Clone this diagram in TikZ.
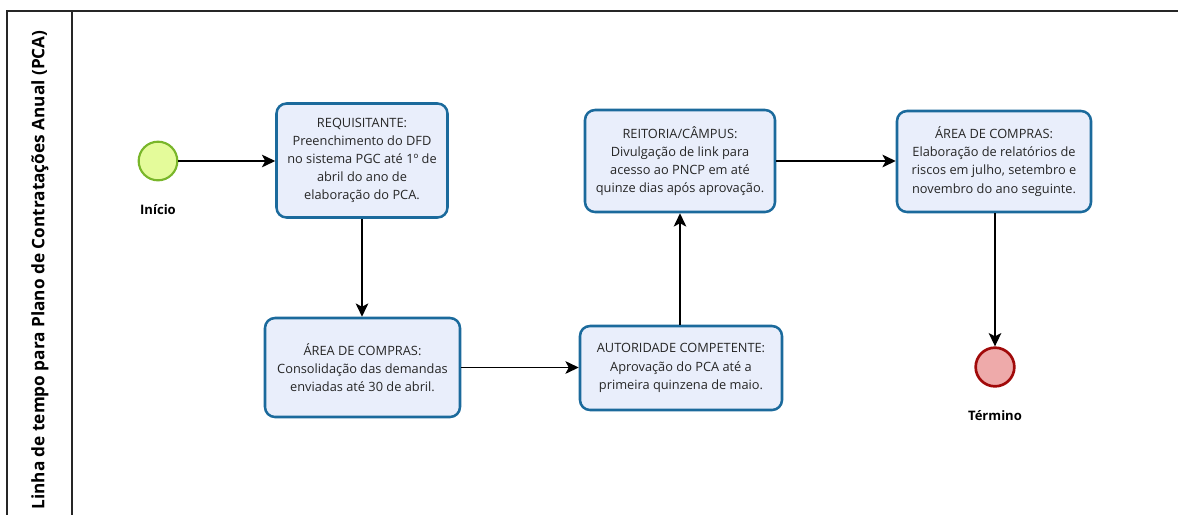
\documentclass[tikz,border=0pt]{standalone}
\usepackage{fontspec}
\setmainfont{Open Sans}
\usetikzlibrary{arrows.meta}
\definecolor{boxfill}{HTML}{E9EEFB}
\definecolor{boxline}{HTML}{1B6A9C}
\definecolor{startfill}{HTML}{E4FB9A}
\definecolor{startline}{HTML}{79B62A}
\definecolor{endfill}{HTML}{EEAAAA}
\definecolor{endline}{HTML}{A10A0A}
\tikzset{
  task/.style={draw=boxline, fill=boxfill, line width=1.9pt, rounded corners=7.5pt,
    align=center, inner sep=2pt, font=\fontsize{9.6}{13.6}\selectfont, text=black!85},
  startev/.style={circle, draw=startline, fill=startfill, line width=1.6pt, minimum size=29pt, inner sep=0pt},
  endev/.style={circle, draw=endline, fill=endfill, line width=2pt, minimum size=29pt, inner sep=0pt},
  evlabel/.style={font=\fontsize{9.8}{11}\selectfont\bfseries},
  flow/.style={line width=1pt, -{Stealth[length=10pt,width=9.5pt,inset=2.5pt]}},
  pool/.style={line width=1pt, draw=black!85}
}
\begin{document}
\begin{tikzpicture}[x=0.75pt,y=-0.75pt]
\useasboundingbox (0,0) rectangle (1178,515);
% pool
\draw[pool] (1178,11) -- (7,11) -- (7,515);
\draw[pool] (72,11) -- (72,515);
\node[rotate=90, font=\fontsize{12.9}{14}\selectfont\bfseries] (title) at (40,270) {Linha de tempo para Plano de Contratações Anual (PCA)};
% events
\node[startev] (start) at (158,161) {};
\node[evlabel] (startlbl) at (158,210) {Início};
\node[endev] (end) at (995,367) {};
\node[evlabel] (endlbl) at (995,416) {Término};
% tasks
\node[task, minimum width=128.25pt, minimum height=85.5pt] (t1) at (362,160.5)
  {REQUISITANTE:\\Preenchimento do DFD\\no sistema PGC até 1º de\\abril do ano de\\elaboração do PCA.};
\node[task, minimum width=146.25pt, minimum height=74.25pt] (t2) at (362.5,367.5)
  {ÁREA DE COMPRAS:\\Consolidação das demandas\\enviadas até 30 de abril.};
\node[task, minimum width=151.5pt, minimum height=63pt] (t3) at (681,368)
  {AUTORIDADE COMPETENTE:\\Aprovação do PCA até a\\primeira quinzena de maio.};
\node[task, minimum width=142.5pt, minimum height=76.5pt] (t4) at (680,161)
  {REITORIA/CÂMPUS:\\Divulgação de link para\\acesso ao PNCP em até\\quinze dias após aprovação.};
\node[task, minimum width=145.5pt, minimum height=75.75pt] (t5) at (994,161.5)
  {ÁREA DE COMPRAS:\\Elaboração de relatórios de\\riscos em julho, setembro e\\novembro do ano seguinte.};
% flows
\draw[flow] (start) -- (t1.west |- start);
\draw[flow] (t1.south -| t1) -- (t2.north -| t1);
\draw[flow] (t2.east) -- (t3.west |- t2.east);
\draw[flow] (t3.north -| t4) -- (t4.south);
\draw[flow] (t4.east) -- (t5.west |- t4.east);
\draw[flow] (t5.south -| end) -- (end.north);
\end{tikzpicture}
\end{document}
